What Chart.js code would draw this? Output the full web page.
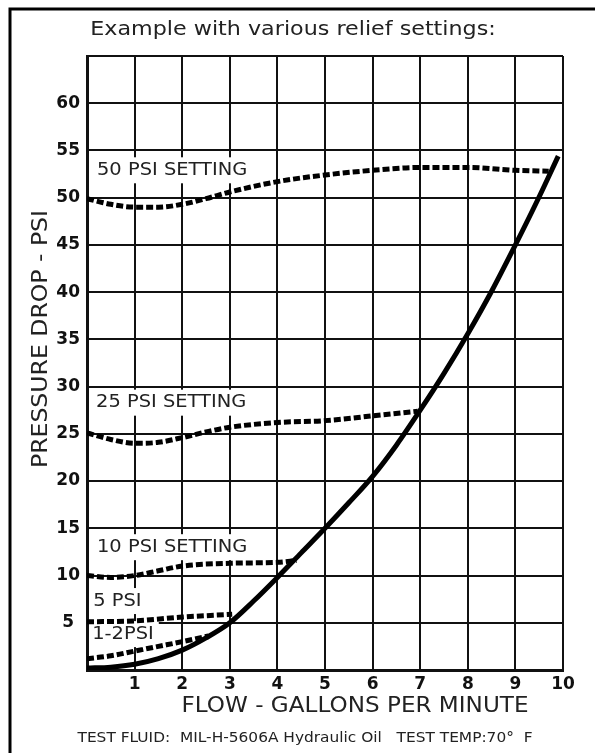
<!doctype html>
<html>
<head>
	<title>Pressure drop vs flow</title>
	<meta charset="UTF-8">
	<script src="https://cdn.jsdelivr.net/npm/chart.js@4.4.1/dist/chart.umd.min.js"></script>
	<style>
		html, body { margin: 0; padding: 0; background: #fff; }
		#canvas-holder { width: 595px; height: 753px; }
	</style>
</head>
<body>
<div id="canvas-holder">
	<canvas id="chart-area" width="595" height="753"></canvas>
</div>
<script>
	// main pressure drop curve (solid)
	var flowMain = [0, 0.5, 1, 1.5, 2, 2.5, 3, 3.5, 4, 4.5, 5, 5.5, 6, 6.5, 7, 7.5, 8, 8.5, 9, 9.5, 9.9];
	var dropMain = [0.2, 0.3, 0.6, 1.2, 2.1, 3.4, 5.0, 7.3, 9.8, 12.4, 15.0, 17.7, 20.5, 23.8, 27.5, 31.4, 35.6, 40.1, 45, 50.1, 54.4];

	// relief settings (dashed)
	var flow50 = [0, 0.5, 1, 1.5, 2, 2.5, 3, 4, 5, 6, 7, 8, 9, 9.7];
	var drop50 = [49.9, 49.3, 49.0, 49.0, 49.3, 49.9, 50.6, 51.7, 52.4, 52.9, 53.2, 53.2, 52.9, 52.8];
	var flow25 = [0, 0.5, 1, 1.5, 2, 2.5, 3, 4, 5, 6, 6.95];
	var drop25 = [25.1, 24.4, 24.0, 24.1, 24.6, 25.2, 25.7, 26.2, 26.4, 26.9, 27.4];
	var flow10 = [0, 0.5, 1, 1.5, 2, 3, 4, 4.4];
	var drop10 = [10.0, 9.8, 10.0, 10.5, 11.0, 11.3, 11.4, 11.6];
	var flow5 = [0, 1, 2, 3.05];
	var drop5 = [5.1, 5.2, 5.6, 5.9];
	var flow12 = [0, 0.5, 1, 1.5, 2, 2.55];
	var drop12 = [1.2, 1.5, 2.0, 2.5, 3.0, 3.6];

	var settingNames = ['50 PSI SETTING', '25 PSI SETTING', '10 PSI SETTING', '5 PSI', '1-2PSI'];
	var settingAtFlow = [0.21, 0.19, 0.21, 0.13, 0.11];
	var settingAtDrop = [52.9, 28.3, 13.0, 7.3, 3.8];

	var chartTitle = 'Example with various relief settings:';
	var xTitle = 'FLOW - GALLONS PER MINUTE';
	var yTitle = 'PRESSURE DROP - PSI';
	var footNote = 'TEST FLUID:  MIL-H-5606A Hydraulic Oil   TEST TEMP:70\u00B0  F';

	var xMin = 0, xMax = 10, xStep = 1;
	var yMin = 0, yMax = 65, yStep = 5;

	function pairs(xs, ys) {
		var out = [];
		for (var i = 0; i < xs.length; i++) {
			out.push({x: xs[i], y: ys[i]});
		}
		return out;
	}

	function dashed(label, xs, ys) {
		return {
			label: label,
			data: pairs(xs, ys),
			borderColor: '#000',
			borderWidth: 5,
			borderDash: [7, 3],
			borderCapStyle: 'butt',
			cubicInterpolationMode: 'monotone'
		};
	}

	// text drawn a bit wider than the font, like the scanned sheet
	function wideText(ctx, str, x, y, font, align, sx, rot) {
		ctx.save();
		ctx.font = font;
		ctx.fillStyle = '#222';
		ctx.textBaseline = 'middle';
		ctx.textAlign = align;
		ctx.translate(x, y);
		if (rot) ctx.rotate(rot);
		ctx.scale(sx, 1);
		ctx.fillText(str, 0, 0);
		ctx.restore();
	}

	var sheetText = {
		id: 'sheetText',
		beforeDatasetsDraw: function (chart) {
			var ctx = chart.ctx;
			var xs = chart.scales.x, ys = chart.scales.y;
			var left = chart.chartArea.left + 2;
			ctx.save();
			ctx.font = '18px "DejaVu Sans"';
			for (var i = 0; i < settingNames.length; i++) {
				var px = xs.getPixelForValue(settingAtFlow[i]);
				var py = ys.getPixelForValue(settingAtDrop[i]);
				var w = ctx.measureText(settingNames[i]).width * 1.08;
				var bx = Math.max(left, px - 8);
				ctx.fillStyle = '#fff';
				ctx.fillRect(bx, py - 13, px + w + 5 - bx, 26);
				wideText(ctx, settingNames[i], px, py, '18px "DejaVu Sans"', 'left', 1.08);
			}
			ctx.restore();
		},
		afterDraw: function (chart) {
			var ctx = chart.ctx;
			wideText(ctx, chartTitle, 293, 30, '19px "DejaVu Sans"', 'center', 1.17);
			wideText(ctx, xTitle, 355, 707, '21px "DejaVu Sans"', 'center', 1.1);
			wideText(ctx, yTitle, 41, 339, '22px "DejaVu Sans"', 'center', 1.07, -Math.PI / 2);
			wideText(ctx, footNote, 305, 738, '13.5px "DejaVu Sans"', 'center', 1.14);
			// sheet frame
			ctx.save();
			ctx.strokeStyle = '#000';
			ctx.lineWidth = 3;
			ctx.beginPath();
			ctx.moveTo(10, 753);
			ctx.lineTo(10, 9);
			ctx.lineTo(595, 9);
			ctx.stroke();
			ctx.restore();
		}
	};

	var config = {
		type: 'scatter',
		data: {
			datasets: [
				{
					label: 'Pressure drop',
					data: pairs(flowMain, dropMain),
					borderColor: '#000',
					borderWidth: 5,
					cubicInterpolationMode: 'monotone'
				},
				dashed('50 PSI', flow50, drop50),
				dashed('25 PSI', flow25, drop25),
				dashed('10 PSI', flow10, drop10),
				dashed('5 PSI', flow5, drop5),
				dashed('1-2 PSI', flow12, drop12)
			]
		},
		options: {
			responsive: false,
			animation: false,
			showLine: true,
			elements: {point: {radius: 0}},
			layout: {padding: {left: 0, right: 32, top: 56, bottom: 0}},
			plugins: {
				legend: {display: false},
				tooltip: {enabled: false}
			},
			scales: {
				x: {
					type: 'linear',
					min: xMin,
					max: xMax,
					afterFit: function (s) { s.height = 83; },
					grid: {color: '#111', lineWidth: 2, drawTicks: false},
					border: {color: '#111', width: 3},
					ticks: {
						stepSize: xStep,
						autoSkip: false,
						maxRotation: 0,
						padding: 4,
						color: '#111',
						font: {family: 'DejaVu Sans', size: 17, weight: 'bold'},
						callback: function (v) { return v === 0 ? '' : v; }
					}
				},
				y: {
					type: 'linear',
					min: yMin,
					max: yMax,
					afterFit: function (s) { s.width = 87; },
					grid: {color: '#111', lineWidth: 2, drawTicks: false},
					border: {color: '#111', width: 3},
					ticks: {
						stepSize: yStep,
						autoSkip: false,
						crossAlign: 'center',
						padding: 7,
						color: '#111',
						font: {family: 'DejaVu Sans', size: 17, weight: 'bold'},
						callback: function (v) { return (v === 0 || v === yMax) ? '' : v; }
					}
				}
			}
		},
		plugins: [sheetText]
	};

	window.onload = function () {
		var ctx = document.getElementById('chart-area').getContext('2d');
		window.myChart = new Chart(ctx, config);
	};
</script>
</body>
</html>
